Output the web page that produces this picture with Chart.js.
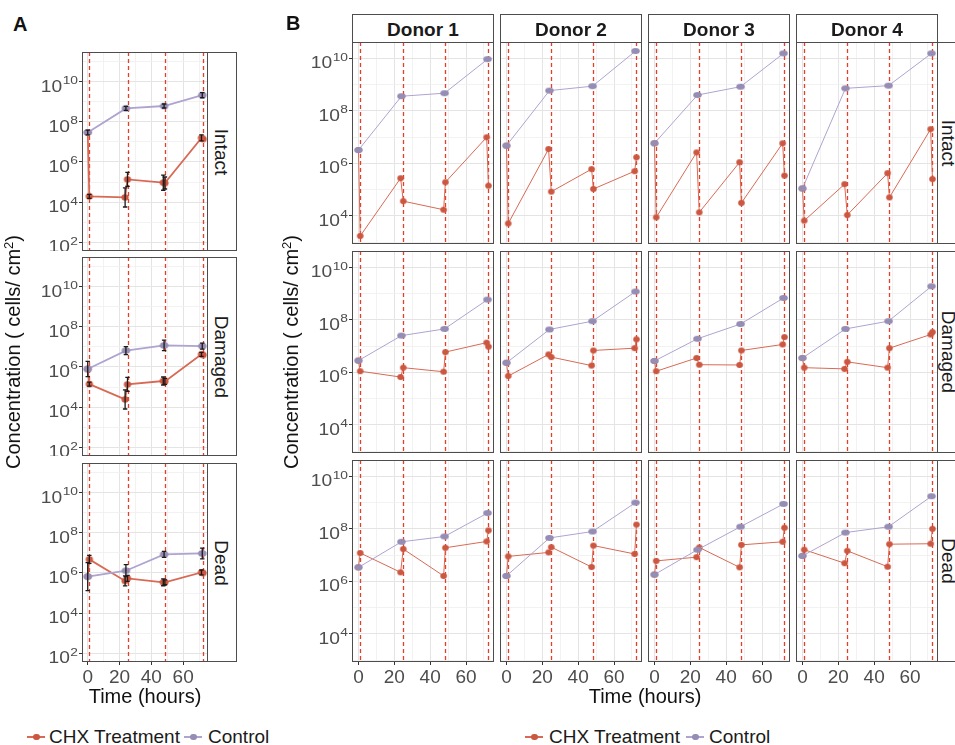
<!DOCTYPE html>
<html><head><meta charset="utf-8">
<script src="https://cdn.jsdelivr.net/npm/chart.js@4.4.1/dist/chart.umd.min.js"></script>
<style>
html,body{margin:0;padding:0;background:#fff;}
#root{position:relative;width:955px;height:745px;overflow:hidden;background:#fff;font-family:"Liberation Sans",Arial,sans-serif;}
#root canvas{position:absolute;}
.t{position:absolute;white-space:nowrap;line-height:20px;}
.box{position:absolute;box-sizing:border-box;border:1px solid #4d4d4d;background:#fff;}
</style></head><body><div id="root"></div>
<script>
// ---------------- data ----------------
const facetRows = ['Intact', 'Damaged', 'Dead'];
const donorNames = ['Donor 1', 'Donor 2', 'Donor 3', 'Donor 4'];
const seriesNames = ['CHX Treatment', 'Control'];
const controlTimes = [0, 24, 48, 72];
const chxTimes = [0, 1, 23.5, 25, 47.5, 48.5, 71.5, 72.5];
const doseTimes = [1, 25, 48.5, 72.5];
const xTicks = [0, 20, 40, 60];
const xMinorTicks = [10, 30, 50, 70];
const yTickExponents = [2, 4, 6, 8, 10];

// Panel A (pooled, with error bars)
const aIntactControl  = [3.0e7, 4.8e8, 6.3e8, 2.2e9];
const aIntactCHX      = [3.0e7, 1.9e4, 1.7e4, 1.35e5, 9.3e4, 8.9e4, 1.6e7, 1.4e7];
const aDamagedControl = [7.9e5, 6.6e6, 1.2e7, 1.1e7];
const aDamagedCHX     = [7.9e5, 1.4e5, 2.4e4, 1.35e5, 2.0e5, 1.9e5, 4.3e6, 4.0e6];
const aDeadControl    = [6.6e5, 1.3e6, 8.5e6, 9.5e6];
const aDeadCHX        = [6.6e5, 4.8e6, 4.0e5, 5.4e5, 3.4e5, 3.4e5, 1.07e6, 1.0e6];
// error bar half-widths, in decades (log10 units)
const aIntactControlErr  = [0.12, 0.1, 0.1, 0.13];
const aIntactCHXErr      = [0, 0.1, 0.48, 0.35, 0.38, 0.3, 0.15, 0];
const aDamagedControlErr = [0.38, 0.2, 0.26, 0.15];
const aDamagedCHXErr     = [0, 0.1, 0.48, 0.35, 0.2, 0.15, 0.1, 0];
const aDeadControlErr    = [0.7, 0.3, 0.15, 0.27];
const aDeadCHXErr        = [0, 0.2, 0.25, 0.15, 0.17, 0.12, 0.12, 0];

// Panel B (one inner list per donor)
const bIntactControl = [
  [3.2e6, 3.6e8, 4.7e8, 9.3e9],
  [4.7e6, 5.9e8, 8.7e8, 1.9e10],
  [5.8e6, 4.0e8, 8.3e8, 1.55e10],
  [1.1e5, 7.2e8, 9.1e8, 1.55e10]];
const bIntactCHX = [
  [3.2e6, 1.7e3, 2.7e5, 3.6e4, 1.7e4, 1.9e5, 9.8e6, 1.4e5],
  [4.7e6, 5.1e3, 3.5e6, 8.3e4, 6.0e5, 1.05e5, 5.0e5, 1.7e6],
  [5.8e6, 8.7e3, 2.6e6, 1.35e4, 1.1e6, 3.1e4, 5.8e6, 3.4e5],
  [1.1e5, 6.5e3, 1.6e5, 1.07e4, 4.2e5, 5.0e4, 2.0e7, 2.5e5]];
const bDamagedControl = [
  [2.8e6, 2.5e7, 4.5e7, 5.9e8],
  [2.3e6, 4.3e7, 8.9e7, 1.2e9],
  [2.7e6, 1.9e7, 6.9e7, 6.8e8],
  [3.5e6, 4.5e7, 8.9e7, 1.9e9]];
const bDamagedCHX = [
  [2.8e6, 1.1e6, 6.6e5, 1.5e6, 1.05e6, 5.9e6, 1.35e7, 9.5e6],
  [2.3e6, 7.2e5, 4.8e6, 3.8e6, 1.8e6, 6.8e6, 8.3e6, 1.8e7],
  [2.7e6, 1.1e6, 3.5e6, 1.95e6, 1.9e6, 6.8e6, 1.15e7, 2.2e7],
  [3.5e6, 1.5e6, 1.35e6, 2.5e6, 1.5e6, 8.3e6, 2.75e7, 3.4e7]];
const bDeadControl = [
  [3.4e6, 3.2e7, 5.1e7, 4.0e8],
  [1.6e6, 4.5e7, 7.9e7, 1.0e9],
  [1.8e6, 1.6e7, 1.2e8, 8.9e8],
  [9.3e6, 7.2e7, 1.2e8, 1.75e9]];
const bDeadCHX = [
  [3.4e6, 1.2e7, 2.2e6, 1.7e7, 1.6e6, 1.9e7, 3.3e7, 8.7e7],
  [1.6e6, 8.9e6, 1.26e7, 2.0e7, 3.5e6, 2.3e7, 1.1e7, 1.45e8],
  [1.8e6, 6.0e6, 8.3e6, 1.95e7, 3.4e6, 2.45e7, 3.2e7, 1.1e8],
  [9.3e6, 1.6e7, 4.9e6, 1.45e7, 3.6e6, 2.6e7, 2.7e7, 1.0e8]];

// axis ranges
const xRange = [-3.6, 75.6];
const aYRange = [3.55e1, 3.16e11];
const bYRange = [8.4e2, 4.2e10];

// ---------------- styling ----------------
const chxLine = '#D86A55', chxDot = '#CC5741';
const ctrlLine = '#AFA3D0', ctrlDot = '#958DB4';
const doseColor = '#E2402A';
const root = document.getElementById('root');
const FONT = '"Liberation Sans", Arial, sans-serif';

function ellipseImg(rx, ry, color) {
  const c = document.createElement('canvas');
  c.width = Math.ceil(rx * 2) + 2; c.height = Math.ceil(ry * 2) + 2;
  const g = c.getContext('2d');
  g.fillStyle = color; g.beginPath();
  g.ellipse(c.width / 2, c.height / 2, rx, ry, 0, 0, Math.PI * 2); g.fill();
  return c;
}
const dotsA = { ctrl: ellipseImg(4.2, 3.2, ctrlDot), chx: ellipseImg(3.6, 3.2, chxDot) };
const dotsB = { ctrl: ellipseImg(4.3, 2.9, ctrlDot), chx: ellipseImg(3.3, 3.0, chxDot) };

const isMajorX = v => xTicks.includes(v);
const isMajorY = v => yTickExponents.includes(Math.round(Math.log10(v)));

const decoPlugin = {
  id: 'deco',
  beforeDatasetsDraw(chart) {
    const { ctx, chartArea: a } = chart; const xs = chart.scales.x;
    ctx.save();
    ctx.beginPath(); ctx.rect(a.left, a.top, a.width, a.height); ctx.clip();
    ctx.strokeStyle = doseColor; ctx.lineWidth = 1.3; ctx.setLineDash([4, 3]);
    doseTimes.forEach(t => {
      const px = Math.round(xs.getPixelForValue(t)) + 0.5;
      ctx.beginPath(); ctx.moveTo(px, a.top); ctx.lineTo(px, a.bottom); ctx.stroke();
    });
    ctx.restore();
  },
  afterDatasetsDraw(chart) {
    const { ctx } = chart; const ys = chart.scales.y;
    ctx.save(); ctx.strokeStyle = '#1a1a1a'; ctx.lineWidth = 1.3;
    chart.data.datasets.forEach((ds, i) => {
      if (!ds.errs) return;
      const meta = chart.getDatasetMeta(i);
      meta.data.forEach((pt, j) => {
        const e = ds.errs[j]; if (!e) return;
        const v = ds.data[j].y;
        const y1 = ys.getPixelForValue(v * Math.pow(10, e));
        const y2 = ys.getPixelForValue(v / Math.pow(10, e));
        const x = pt.x;
        ctx.beginPath();
        ctx.moveTo(x, y1); ctx.lineTo(x, y2);
        ctx.moveTo(x - 2.2, y1); ctx.lineTo(x + 2.2, y1);
        ctx.moveTo(x - 2.2, y2); ctx.lineTo(x + 2.2, y2);
        ctx.stroke();
      });
    });
    ctx.restore();
  },
  afterDraw(chart) {
    const { ctx, chartArea: a } = chart;
    ctx.save();
    ctx.strokeStyle = '#4d4d4d'; ctx.lineWidth = 1;
    ctx.strokeRect(a.left + 0.5, a.top + 0.5, a.width - 1, a.height - 1);
    const o = chart.options.plugins.deco;
    if (o && o.showY) {
      const ys = chart.scales.y;
      ctx.fillStyle = '#4D4D4D'; ctx.textBaseline = 'alphabetic';
      const SX = 1.2;
      yTickExponents.forEach(k => {
        const v = Math.pow(10, k);
        if (v < ys.min || v > ys.max) return;
        const py = ys.getPixelForValue(v);
        const sup = String(k);
        ctx.font = '11.5px ' + FONT;
        const supW = ctx.measureText(sup).width * SX;
        ctx.font = '16px ' + FONT;
        const baseW = ctx.measureText('10').width * SX;
        const right = a.left - 4;
        const bx = right - supW - baseW - 0.5;
        ctx.save(); ctx.translate(bx, py + 10); ctx.scale(SX, 1); ctx.fillText('10', 0, 0); ctx.restore();
        ctx.font = '11.5px ' + FONT;
        ctx.save(); ctx.translate(bx + baseW + 0.5, py + 2.5); ctx.scale(SX, 1); ctx.fillText(sup, 0, 0); ctx.restore();
      });
    }
    ctx.restore();
  }
};

function buildPanel(o) {
  const W = o.w + o.padL, H = o.h + o.padB;
  const cv = document.createElement('canvas');
  cv.width = W; cv.height = H;
  cv.style.left = (o.left - o.padL) + 'px'; cv.style.top = o.top + 'px';
  cv.style.width = W + 'px'; cv.style.height = H + 'px';
  root.appendChild(cv);
  new Chart(cv, {
    type: 'line',
    data: { datasets: [
      { label: seriesNames[1], data: controlTimes.map((t, i) => ({ x: t, y: o.control[i] })),
        borderColor: ctrlLine, borderWidth: o.lw, pointStyle: o.dots.ctrl, pointRadius: 4,
        errs: o.controlErr, tension: 0, fill: false },
      { label: seriesNames[0], data: chxTimes.map((t, i) => ({ x: t, y: o.chx[i] })),
        borderColor: chxLine, borderWidth: o.lw, pointStyle: o.dots.chx, pointRadius: 3.5,
        errs: o.chxErr, tension: 0, fill: false }
    ] },
    options: {
      responsive: false, maintainAspectRatio: false, animation: false, events: [],
      layout: { padding: 0, autoPadding: false },
      plugins: { legend: { display: false }, tooltip: { enabled: false }, deco: { showY: o.showY } },
      scales: {
        x: {
          type: 'linear', min: xRange[0], max: xRange[1],
          afterBuildTicks: s => { s.ticks = [...xTicks, ...xMinorTicks].sort((p, q) => p - q).map(v => ({ value: v })); },
          afterFit: s => { s.height = o.padB; },
          border: { display: false },
          grid: {
            color: c => isMajorX(c.tick.value) ? '#E4E4E4' : '#EFEFEF',
            lineWidth: c => isMajorX(c.tick.value) ? 1 : 0.8,
            drawTicks: o.showX, tickLength: 3,
            tickColor: c => isMajorX(c.tick.value) ? '#333333' : 'rgba(0,0,0,0)'
          },
          ticks: {
            display: o.showX, autoSkip: false, maxRotation: 0, minRotation: 0, padding: 1,
            color: '#4D4D4D', font: { family: FONT, size: 19 },
            callback: v => isMajorX(v) ? String(v) : ''
          }
        },
        y: {
          type: 'logarithmic', min: o.yRange[0], max: o.yRange[1],
          afterBuildTicks: s => {
            const t = [];
            for (let k = Math.ceil(Math.log10(s.min) - 1e-9); k <= Math.floor(Math.log10(s.max) + 1e-9); k++) t.push({ value: Math.pow(10, k) });
            s.ticks = t;
          },
          afterFit: s => { s.width = o.padL; },
          border: { display: false },
          grid: {
            color: c => isMajorY(c.tick.value) ? '#E4E4E4' : '#EFEFEF',
            lineWidth: c => isMajorY(c.tick.value) ? 1 : 0.8,
            drawTicks: o.showY, tickLength: 3,
            tickColor: c => isMajorY(c.tick.value) ? '#333333' : 'rgba(0,0,0,0)'
          },
          ticks: { display: false }
        }
      }
    },
    plugins: [decoPlugin]
  });
}

function addText(html, css) {
  const d = document.createElement('div'); d.className = 't'; d.innerHTML = html;
  Object.assign(d.style, css); root.appendChild(d); return d;
}
function addBox(l, t, w, h) {
  const d = document.createElement('div'); d.className = 'box';
  Object.assign(d.style, { left: l + 'px', top: t + 'px', width: w + 'px', height: h + 'px' });
  root.appendChild(d); return d;
}
function rotText(txt, cx, cy, deg, css) {
  const d = addText(txt, Object.assign({ left: cx + 'px', top: cy + 'px', transform: 'translate(-50%,-50%) rotate(' + deg + 'deg)' }, css));
  return d;
}

// ---------------- Panel A ----------------
const aLeft = 82, aW = 126, aH = 199, aTops = [52, 257, 463];
const aRows = [
  [aIntactControl, aIntactCHX, aIntactControlErr, aIntactCHXErr],
  [aDamagedControl, aDamagedCHX, aDamagedControlErr, aDamagedCHXErr],
  [aDeadControl, aDeadCHX, aDeadControlErr, aDeadCHXErr]];
aRows.forEach((r, i) => {
  buildPanel({ left: aLeft, top: aTops[i], w: aW, h: aH, padL: 82, padB: i === 2 ? 30 : 0,
    yRange: aYRange, control: r[0], chx: r[1], controlErr: r[2], chxErr: r[3],
    showY: true, showX: i === 2, lw: 1.8, dots: dotsA });
  addBox(aLeft + aW - 1, aTops[i], 30, aH);
  rotText(facetRows[i], 220.5, aTops[i] + aH / 2, 90, { fontSize: '19px', color: '#1a1a1a' });
});

// ---------------- Panel B ----------------
const bLefts = [352, 500, 648, 796], bW = 142, bH = 202, bTops = [42, 251, 460];
const bRows = [[bIntactControl, bIntactCHX], [bDamagedControl, bDamagedCHX], [bDeadControl, bDeadCHX]];
bRows.forEach((r, i) => {
  bLefts.forEach((l, j) => {
    buildPanel({ left: l, top: bTops[i], w: bW, h: bH, padL: j === 0 ? 52 : 0, padB: i === 2 ? 30 : 0,
      yRange: bYRange, control: r[0][j], chx: r[1][j], controlErr: null, chxErr: null,
      showY: j === 0, showX: i === 2, lw: 1, dots: dotsB });
  });
  addBox(bLefts[3] + bW - 1, bTops[i], 40, bH);
  rotText(facetRows[i], 948, bTops[i] + bH / 2, 90, { fontSize: '19px', color: '#1a1a1a' });
});
bLefts.forEach((l, j) => {
  const s = addBox(l, 14, bW, 29);
  s.style.display = 'flex'; s.style.alignItems = 'center'; s.style.justifyContent = 'center';
  s.style.paddingTop = '2px';
  s.style.font = 'bold 19px ' + FONT; s.style.color = '#1a1a1a';
  s.textContent = donorNames[j];
});

// ---------------- titles ----------------
addText('A', { left: '13px', top: '14px', font: 'bold 20px ' + FONT, lineHeight: '20px', color: '#111' });
addText('B', { left: '286px', top: '13px', font: 'bold 20px ' + FONT, lineHeight: '20px', color: '#111' });
const yTitle = 'Concentration ( cells/ cm<sup style="font-size:13px;vertical-align:7px;line-height:0">2</sup>)';
rotText(yTitle, 13, 352, -90, { fontSize: '20px', color: '#111' });
rotText(yTitle, 291, 352, -90, { fontSize: '20px', color: '#111' });
addText('Time (hours)', { left: '145px', top: '686px', transform: 'translateX(-50%)', fontSize: '20px', color: '#111' });
addText('Time (hours)', { left: '645px', top: '686px', transform: 'translateX(-50%)', fontSize: '20px', color: '#111' });

// ---------------- legends ----------------
function legendKey(x, color, dot) {
  const line = document.createElement('div');
  Object.assign(line.style, { position: 'absolute', left: x + 'px', top: '736px', width: '18px', height: '1.6px', background: color });
  root.appendChild(line);
  const d = document.createElement('div');
  Object.assign(d.style, { position: 'absolute', left: (x + 6) + 'px', top: '733.5px', width: '6.5px', height: '6.5px', borderRadius: '50%', background: dot });
  root.appendChild(d);
}
function legend(x1, t1, x2, t2) {
  legendKey(x1, chxLine, chxDot);
  addText(seriesNames[0], { left: t1 + 'px', top: '727px', fontSize: '19px', color: '#1a1a1a' });
  legendKey(x2, ctrlLine, ctrlDot);
  addText(seriesNames[1], { left: t2 + 'px', top: '727px', fontSize: '19px', color: '#1a1a1a' });
}
legend(27, 49, 184, 208);
legend(525, 549, 686, 709);
</script></body></html>
